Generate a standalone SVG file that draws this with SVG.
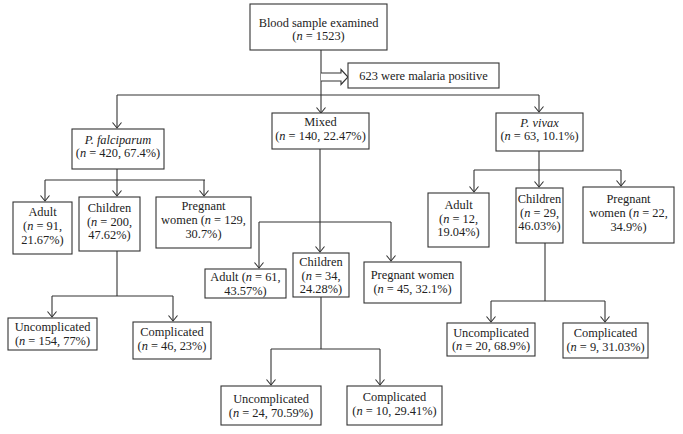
<svg xmlns="http://www.w3.org/2000/svg" width="683" height="434" viewBox="0 0 683 434">
<style>
.box{fill:#fff;stroke:#333;stroke-width:1.1}
.t{font-family:"Liberation Serif","Times New Roman",serif;font-size:12.4px;fill:#222;text-anchor:middle}
.i{font-style:italic}
.ln{fill:none;stroke:#333;stroke-width:1.1}
</style>
<defs>
<marker id="arr" viewBox="-7 -6 8 12" markerWidth="8" markerHeight="12" refX="0" refY="0" orient="auto" markerUnits="userSpaceOnUse">
<path d="M-5.5,-4.5 L0,0 L-5.5,4.5" fill="none" stroke="#333" stroke-width="1.1"/>
</marker>
</defs>
<rect width="683" height="434" fill="#fff"/>
<g id="connectors">
<path class="ln" d="M321,50 V113" marker-end="url(#arr)"/>
<path class="ln" d="M117,95 H539"/>
<path class="ln" d="M117,95 V128" marker-end="url(#arr)"/>
<path class="ln" d="M539,95 V112" marker-end="url(#arr)"/>
<path d="M321,73 H341 V69.5 L348,77 L341,84.5 V81 H321" fill="#fff" stroke="#333" stroke-width="1.1"/>
<path class="ln" d="M117,169 V180"/>
<path class="ln" d="M45,180 H205"/>
<path class="ln" d="M45,180 V201" marker-end="url(#arr)"/>
<path class="ln" d="M117,180 V196" marker-end="url(#arr)"/>
<path class="ln" d="M204,180 V196" marker-end="url(#arr)"/>
<path class="ln" d="M117,251 V296"/>
<path class="ln" d="M52,296 H173"/>
<path class="ln" d="M52,296 V317" marker-end="url(#arr)"/>
<path class="ln" d="M173,296 V321" marker-end="url(#arr)"/>
<path class="ln" d="M320,149 V252" marker-end="url(#arr)"/>
<path class="ln" d="M259,222 H391"/>
<path class="ln" d="M259,222 V268" marker-end="url(#arr)"/>
<path class="ln" d="M391,222 V261" marker-end="url(#arr)"/>
<path class="ln" d="M321,297 V349"/>
<path class="ln" d="M271,349 H380"/>
<path class="ln" d="M271,349 V385" marker-end="url(#arr)"/>
<path class="ln" d="M380,349 V385" marker-end="url(#arr)"/>
<path class="ln" d="M539,151 V187" marker-end="url(#arr)"/>
<path class="ln" d="M474,170 H621"/>
<path class="ln" d="M474,170 V192" marker-end="url(#arr)"/>
<path class="ln" d="M621,170 V186" marker-end="url(#arr)"/>
<path class="ln" d="M545,243 V301"/>
<path class="ln" d="M491,301 H605"/>
<path class="ln" d="M491,301 V322" marker-end="url(#arr)"/>
<path class="ln" d="M605,301 V322" marker-end="url(#arr)"/>
</g>
<g id="blood">
<rect class="box" x="250" y="4" width="137" height="46"/>
<text class="t" x="318.5" y="26.6">Blood sample examined<tspan x="318.5" dy="13.8">(<tspan class="i">n</tspan> = 1523)</tspan></text>
</g>
<g id="positive">
<rect class="box" x="348" y="63" width="151" height="25"/>
<text class="t" x="423.5" y="80">623 were malaria positive</text>
</g>
<g id="pf">
<rect class="box" x="72" y="129" width="92" height="40"/>
<text class="t" x="118" y="143.6"><tspan class="i">P. falciparum</tspan><tspan x="118" dy="13.8">(<tspan class="i">n</tspan> = 420, 67.4%)</tspan></text>
</g>
<g id="mixed">
<rect class="box" x="272" y="113" width="97" height="36"/>
<text class="t" x="320.5" y="125.9">Mixed<tspan x="320.5" dy="13.8">(<tspan class="i">n</tspan> = 140, 22.47%)</tspan></text>
</g>
<g id="pv">
<rect class="box" x="496" y="113" width="87" height="38"/>
<text class="t" x="539.5" y="126.6"><tspan class="i">P. vivax</tspan><tspan x="539.5" dy="13.8">(<tspan class="i">n</tspan> = 63, 10.1%)</tspan></text>
</g>
<g id="pf-adult">
<rect class="box" x="13" y="202" width="59" height="52"/>
<text class="t" x="42.5" y="216.2">Adult<tspan x="42.5" dy="13.8">(<tspan class="i">n</tspan> = 91,</tspan><tspan x="42.5" dy="13.8">21.67%)</tspan></text>
</g>
<g id="pf-children">
<rect class="box" x="79" y="197" width="61" height="54"/>
<text class="t" x="109.5" y="211.7">Children<tspan x="109.5" dy="13.8">(<tspan class="i">n</tspan> = 200,</tspan><tspan x="109.5" dy="13.8">47.62%)</tspan></text>
</g>
<g id="pf-pregnant">
<rect class="box" x="156" y="197" width="95" height="51"/>
<text class="t" x="203.5" y="210">Pregnant<tspan x="203.5" dy="13.8">women (<tspan class="i">n</tspan> = 129,</tspan><tspan x="203.5" dy="13.8">30.7%)</tspan></text>
</g>
<g id="pf-uncomplicated">
<rect class="box" x="8" y="318" width="89" height="32"/>
<text class="t" x="52.5" y="331.3">Uncomplicated<tspan x="52.5" dy="13.8">(<tspan class="i">n</tspan> = 154, 77%)</tspan></text>
</g>
<g id="pf-complicated">
<rect class="box" x="133" y="322" width="78" height="37"/>
<text class="t" x="172" y="336.1">Complicated<tspan x="172" dy="13.8">(<tspan class="i">n</tspan> = 46, 23%)</tspan></text>
</g>
<g id="mx-adult">
<rect class="box" x="205" y="269" width="81" height="29"/>
<text class="t" x="245.5" y="281.3">Adult (<tspan class="i">n</tspan> = 61,<tspan x="245.5" dy="13.8">43.57%)</tspan></text>
</g>
<g id="mx-children">
<rect class="box" x="293" y="253" width="56" height="44"/>
<text class="t" x="321" y="265.7">Children<tspan x="321" dy="13.8">(<tspan class="i">n</tspan> = 34,</tspan><tspan x="321" dy="13.8">24.28%)</tspan></text>
</g>
<g id="mx-pregnant">
<rect class="box" x="364" y="262" width="97" height="41"/>
<text class="t" x="412.5" y="278.9">Pregnant women<tspan x="412.5" dy="13.8">(<tspan class="i">n</tspan> = 45, 32.1%)</tspan></text>
</g>
<g id="mx-uncomplicated">
<rect class="box" x="221" y="386" width="100" height="39"/>
<text class="t" x="271" y="402.9">Uncomplicated<tspan x="271" dy="13.8">(<tspan class="i">n</tspan> = 24, 70.59%)</tspan></text>
</g>
<g id="mx-complicated">
<rect class="box" x="347" y="386" width="95" height="39"/>
<text class="t" x="394.5" y="401.4">Complicated<tspan x="394.5" dy="13.8">(<tspan class="i">n</tspan> = 10, 29.41%)</tspan></text>
</g>
<g id="pv-adult">
<rect class="box" x="428" y="193" width="61" height="54"/>
<text class="t" x="458.5" y="208.7">Adult<tspan x="458.5" dy="13.8">(<tspan class="i">n</tspan> = 12,</tspan><tspan x="458.5" dy="13.8">19.04%)</tspan></text>
</g>
<g id="pv-children">
<rect class="box" x="516" y="188" width="47" height="55"/>
<text class="t" x="539.5" y="202.7">Children<tspan x="539.5" dy="13.8">(<tspan class="i">n</tspan> = 29,</tspan><tspan x="539.5" dy="13.8">46.03%)</tspan></text>
</g>
<g id="pv-pregnant">
<rect class="box" x="583" y="187" width="91" height="56"/>
<text class="t" x="628.5" y="203.2">Pregnant<tspan x="628.5" dy="13.8">women (<tspan class="i">n</tspan> = 22,</tspan><tspan x="628.5" dy="13.8">34.9%)</tspan></text>
</g>
<g id="pv-uncomplicated">
<rect class="box" x="447" y="323" width="88" height="33"/>
<text class="t" x="491" y="336.6">Uncomplicated<tspan x="491" dy="13.8">(<tspan class="i">n</tspan> = 20, 68.9%)</tspan></text>
</g>
<g id="pv-complicated">
<rect class="box" x="563" y="323" width="85" height="35"/>
<text class="t" x="605.5" y="337.1">Complicated<tspan x="605.5" dy="13.8">(<tspan class="i">n</tspan> = 9, 31.03%)</tspan></text>
</g>
</svg>
